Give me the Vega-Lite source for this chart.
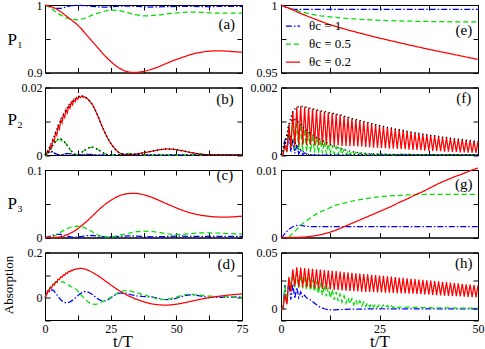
{
"$schema":"https://vega.github.io/schema/vega-lite/v6.json",
"padding":{"left":2,"top":-2,"right":0,"bottom":0},
"background":"white",
"config":{
 "font":"Liberation Serif",
 "view":{"stroke":"black","strokeWidth":1},
 "axis":{"domainColor":"black","domainWidth":1,"tickColor":"black","tickWidth":1,"tickSize":-5,"labelPadding":8,"labelFontSize":12,"labelColor":"black","labelFont":"Liberation Serif","labelFlush":false,"labelOverlap":false,"grid":false,"titleFont":"Liberation Serif","titleFontWeight":"normal","titleColor":"black"},
 "line":{"strokeWidth":1.25,"clip":true},
 "text":{"font":"Liberation Serif","fontSize":15,"color":"black"}
},
"datasets":{
"a":[
{"s":"b","t":0,"v":1},{"s":"b","t":2,"v":0.997},{"s":"b","t":4,"v":0.995},{"s":"b","t":6,"v":0.995},{"s":"b","t":8,"v":0.997},{"s":"b","t":10,"v":0.999},{"s":"b","t":12,"v":0.9995},{"s":"b","t":15,"v":0.999},{"s":"b","t":18,"v":0.998},{"s":"b","t":21,"v":0.997},{"s":"b","t":24,"v":0.997},{"s":"b","t":27,"v":0.998},{"s":"b","t":30,"v":0.9985},{"s":"b","t":35,"v":0.998},{"s":"b","t":40,"v":0.997},{"s":"b","t":45,"v":0.9975},{"s":"b","t":50,"v":0.998},{"s":"b","t":55,"v":0.998},{"s":"b","t":60,"v":0.9975},{"s":"b","t":65,"v":0.9978},{"s":"b","t":70,"v":0.998},{"s":"b","t":75,"v":0.998},
{"s":"g","t":0,"v":1},{"s":"g","t":2,"v":0.996},{"s":"g","t":4,"v":0.99},{"s":"g","t":6,"v":0.985},{"s":"g","t":8,"v":0.981},{"s":"g","t":10,"v":0.979},{"s":"g","t":12.5,"v":0.978},{"s":"g","t":15,"v":0.98},{"s":"g","t":18,"v":0.985},{"s":"g","t":21,"v":0.989},{"s":"g","t":24,"v":0.992},{"s":"g","t":26,"v":0.9925},{"s":"g","t":28,"v":0.992},{"s":"g","t":31,"v":0.989},{"s":"g","t":34,"v":0.986},{"s":"g","t":37,"v":0.984},{"s":"g","t":40,"v":0.984},{"s":"g","t":44,"v":0.9855},{"s":"g","t":48,"v":0.9875},{"s":"g","t":52,"v":0.989},{"s":"g","t":56,"v":0.9895},{"s":"g","t":60,"v":0.989},{"s":"g","t":65,"v":0.988},{"s":"g","t":70,"v":0.988},{"s":"g","t":75,"v":0.988},
{"s":"r","t":0,"v":1},{"s":"r","t":2,"v":0.998},{"s":"r","t":4,"v":0.995},{"s":"r","t":6,"v":0.99},{"s":"r","t":8,"v":0.984},{"s":"r","t":10,"v":0.978},{"s":"r","t":12,"v":0.972},{"s":"r","t":14,"v":0.964},{"s":"r","t":16,"v":0.955},{"s":"r","t":18,"v":0.946},{"s":"r","t":20,"v":0.937},{"s":"r","t":22,"v":0.928},{"s":"r","t":24,"v":0.92},{"s":"r","t":26,"v":0.913},{"s":"r","t":28,"v":0.907},{"s":"r","t":30,"v":0.903},{"s":"r","t":32,"v":0.9005},{"s":"r","t":34,"v":0.9},{"s":"r","t":36,"v":0.9005},{"s":"r","t":38,"v":0.902},{"s":"r","t":40,"v":0.904},{"s":"r","t":43,"v":0.908},{"s":"r","t":46,"v":0.913},{"s":"r","t":49,"v":0.918},{"s":"r","t":52,"v":0.922},{"s":"r","t":55,"v":0.926},{"s":"r","t":58,"v":0.929},{"s":"r","t":61,"v":0.931},{"s":"r","t":64,"v":0.932},{"s":"r","t":67,"v":0.932},{"s":"r","t":70,"v":0.9315},{"s":"r","t":73,"v":0.9305},{"s":"r","t":75,"v":0.93},
{"s":"lab","t":69.2,"v":0.972,"lab":"(a)"}
],
"e":[
{"s":"b","t":0,"v":1},{"s":"b","t":1,"v":0.9985},{"s":"b","t":2,"v":0.9975},{"s":"b","t":3,"v":0.997},{"s":"b","t":4,"v":0.9968},{"s":"b","t":6,"v":0.9968},{"s":"b","t":50,"v":0.9968},
{"s":"g","t":0,"v":1},{"s":"g","t":2.5,"v":0.9972},{"s":"g","t":5,"v":0.995},{"s":"g","t":7.5,"v":0.9933},{"s":"g","t":10,"v":0.992},{"s":"g","t":12.5,"v":0.9912},{"s":"g","t":15,"v":0.9905},{"s":"g","t":17.5,"v":0.9899},{"s":"g","t":20,"v":0.9894},{"s":"g","t":25,"v":0.9887},{"s":"g","t":30,"v":0.9882},{"s":"g","t":35,"v":0.9879},{"s":"g","t":40,"v":0.9877},{"s":"g","t":45,"v":0.9875},{"s":"g","t":50,"v":0.9874},
{"s":"r","t":0,"v":1},{"s":"r","t":2.5,"v":0.997},{"s":"r","t":5,"v":0.9937},{"s":"r","t":7.5,"v":0.9908},{"s":"r","t":10,"v":0.988},{"s":"r","t":12.5,"v":0.9853},{"s":"r","t":15,"v":0.9832},{"s":"r","t":17.5,"v":0.9811},{"s":"r","t":20,"v":0.9792},{"s":"r","t":22.5,"v":0.9773},{"s":"r","t":25,"v":0.9755},{"s":"r","t":27.5,"v":0.9738},{"s":"r","t":30,"v":0.9721},{"s":"r","t":32.5,"v":0.9704},{"s":"r","t":35,"v":0.9688},{"s":"r","t":37.5,"v":0.9672},{"s":"r","t":40,"v":0.9657},{"s":"r","t":42.5,"v":0.9642},{"s":"r","t":45,"v":0.9627},{"s":"r","t":47.5,"v":0.9612},{"s":"r","t":50,"v":0.9597},
{"s":"lab","t":46.4,"v":0.9816,"lab":"(e)"}
],
"b":[
{"s":"b","t":0,"v":0},{"s":"b","t":0.5,"v":0.0003},{"s":"b","t":1,"v":0.0008},{"s":"b","t":1.5,"v":0.0007},{"s":"b","t":2,"v":0.0012},{"s":"b","t":2.5,"v":0.0009},{"s":"b","t":3,"v":0.001},{"s":"b","t":3.5,"v":0.0006},{"s":"b","t":4,"v":0.0004},{"s":"b","t":5,"v":0.0001},{"s":"b","t":6,"v":0},{"s":"b","t":7,"v":0.0002},{"s":"b","t":8,"v":0.0004},{"s":"b","t":9,"v":0.0004},{"s":"b","t":10,"v":0.0003},{"s":"b","t":11,"v":0.0001},{"s":"b","t":12,"v":0},{"s":"b","t":14,"v":0.0001},{"s":"b","t":16,"v":0.0002},{"s":"b","t":18,"v":0.0001},{"s":"b","t":20,"v":0},{"s":"b","t":30,"v":0},{"s":"b","t":45,"v":0},{"s":"b","t":60,"v":0},{"s":"b","t":75,"v":0},
{"s":"g","t":0,"v":0},{"s":"g","t":0.5,"v":0},{"s":"g","t":1,"v":0.0005},{"s":"g","t":1.5,"v":0.0008},{"s":"g","t":2,"v":0.0016},{"s":"g","t":2.5,"v":0.0021},{"s":"g","t":3,"v":0.0029},{"s":"g","t":3.5,"v":0.0033},{"s":"g","t":4,"v":0.004},{"s":"g","t":4.5,"v":0.0042},{"s":"g","t":5,"v":0.0047},{"s":"g","t":5.5,"v":0.0042},{"s":"g","t":6,"v":0.0048},{"s":"g","t":6.5,"v":0.0041},{"s":"g","t":7,"v":0.0043},{"s":"g","t":7.5,"v":0.0036},{"s":"g","t":8,"v":0.0034},{"s":"g","t":8.5,"v":0.0026},{"s":"g","t":9,"v":0.0023},{"s":"g","t":9.5,"v":0.0016},{"s":"g","t":10,"v":0.0012},{"s":"g","t":10.5,"v":0.0007},{"s":"g","t":11,"v":0.0004},{"s":"g","t":11.5,"v":0.0002},{"s":"g","t":12,"v":0.0001},{"s":"g","t":13,"v":0.0003},{"s":"g","t":14,"v":0.0008},{"s":"g","t":15,"v":0.0014},{"s":"g","t":16,"v":0.0019},{"s":"g","t":17,"v":0.0022},{"s":"g","t":18,"v":0.0023},{"s":"g","t":19,"v":0.0021},{"s":"g","t":20,"v":0.0017},{"s":"g","t":21,"v":0.0012},{"s":"g","t":22,"v":0.0007},{"s":"g","t":23,"v":0.0003},{"s":"g","t":24,"v":0.0001},{"s":"g","t":26,"v":0},{"s":"g","t":28,"v":0.0001},{"s":"g","t":30,"v":0.0003},{"s":"g","t":32,"v":0.0004},{"s":"g","t":34,"v":0.0003},{"s":"g","t":36,"v":0.0001},{"s":"g","t":38,"v":0},{"s":"g","t":50,"v":0},{"s":"g","t":62,"v":0},{"s":"g","t":75,"v":0},
{"s":"r","t":0,"v":0},{"s":"r","t":0.5,"v":0.0002},{"s":"r","t":1,"v":0.0012},{"s":"r","t":1.5,"v":0.0009},{"s":"r","t":2,"v":0.0028},{"s":"r","t":2.5,"v":0.0022},{"s":"r","t":3,"v":0.0046},{"s":"r","t":3.5,"v":0.0039},{"s":"r","t":4,"v":0.0066},{"s":"r","t":4.5,"v":0.0058},{"s":"r","t":5,"v":0.0086},{"s":"r","t":5.5,"v":0.0077},{"s":"r","t":6,"v":0.0104},{"s":"r","t":6.5,"v":0.0095},{"s":"r","t":7,"v":0.012},{"s":"r","t":7.5,"v":0.0111},{"s":"r","t":8,"v":0.0134},{"s":"r","t":8.5,"v":0.0125},{"s":"r","t":9,"v":0.0146},{"s":"r","t":9.5,"v":0.0138},{"s":"r","t":10,"v":0.0156},{"s":"r","t":10.5,"v":0.0149},{"s":"r","t":11,"v":0.0164},{"s":"r","t":11.5,"v":0.0158},{"s":"r","t":12,"v":0.017},{"s":"r","t":12.5,"v":0.0165},{"s":"r","t":13,"v":0.0174},{"s":"r","t":13.5,"v":0.017},{"s":"r","t":14,"v":0.0175},{"s":"r","t":14.5,"v":0.0171},{"s":"r","t":15,"v":0.0173},{"s":"r","t":15.5,"v":0.0169},{"s":"r","t":16,"v":0.0168},{"s":"r","t":17,"v":0.016},{"s":"r","t":18,"v":0.015},{"s":"r","t":19,"v":0.0135},{"s":"r","t":20,"v":0.0118},{"s":"r","t":21,"v":0.0099},{"s":"r","t":22,"v":0.008},{"s":"r","t":23,"v":0.0063},{"s":"r","t":24,"v":0.0048},{"s":"r","t":25,"v":0.0035},{"s":"r","t":26,"v":0.0024},{"s":"r","t":27,"v":0.0015},{"s":"r","t":28,"v":0.0008},{"s":"r","t":29,"v":0.0004},{"s":"r","t":30,"v":0.0002},{"s":"r","t":31,"v":0.0001},{"s":"r","t":33,"v":0.0001},{"s":"r","t":35,"v":0.0003},{"s":"r","t":37,"v":0.0006},{"s":"r","t":40,"v":0.001},{"s":"r","t":43,"v":0.0015},{"s":"r","t":46,"v":0.0018},{"s":"r","t":49,"v":0.0017},{"s":"r","t":52,"v":0.0013},{"s":"r","t":55,"v":0.0008},{"s":"r","t":58,"v":0.0004},{"s":"r","t":61,"v":0.0001},{"s":"r","t":64,"v":0},{"s":"r","t":70,"v":0},{"s":"r","t":75,"v":0},
{"s":"lab","t":68.5,"v":0.0167,"lab":"(b)"}
],
"f":[
{"s":"b","t":0,"v":0},{"s":"b","t":0.5,"v":0},{"s":"b","t":1,"v":0.00045},{"s":"b","t":1.5,"v":0.0001},{"s":"b","t":2,"v":0.0006},{"s":"b","t":2.5,"v":0.0001},{"s":"b","t":3,"v":0.00045},{"s":"b","t":3.5,"v":0.00005},{"s":"b","t":4,"v":0.0003},{"s":"b","t":4.5,"v":0.00003},{"s":"b","t":5,"v":0.00015},{"s":"b","t":5.5,"v":0},{"s":"b","t":6,"v":0.00006},{"s":"b","t":7,"v":0.00001},{"s":"b","t":8,"v":0},{"s":"b","t":20,"v":0},{"s":"b","t":35,"v":0},{"s":"b","t":50,"v":0},
{"s":"g","t":0,"v":0},{"s":"g","t":0.5,"v":0},{"s":"g","t":1,"v":0.0003},{"s":"g","t":1.5,"v":0.00008},{"s":"g","t":2,"v":0.0009},{"s":"g","t":2.5,"v":0.0002},{"s":"g","t":3,"v":0.00107},{"s":"g","t":3.5,"v":0.00018},{"s":"g","t":4,"v":0.00102},{"s":"g","t":4.5,"v":0.00015},{"s":"g","t":5,"v":0.0009},{"s":"g","t":5.5,"v":0.00012},{"s":"g","t":6,"v":0.00077},{"s":"g","t":6.5,"v":0.0001},{"s":"g","t":7,"v":0.00068},{"s":"g","t":7.5,"v":0.00008},{"s":"g","t":8,"v":0.0006},{"s":"g","t":8.5,"v":0.00007},{"s":"g","t":9,"v":0.00052},{"s":"g","t":9.5,"v":0.00006},{"s":"g","t":10,"v":0.00046},{"s":"g","t":10.5,"v":0.00005},{"s":"g","t":11,"v":0.0004},{"s":"g","t":11.5,"v":0.00004},{"s":"g","t":12,"v":0.00034},{"s":"g","t":12.5,"v":0.00003},{"s":"g","t":13,"v":0.00029},{"s":"g","t":13.5,"v":0.00003},{"s":"g","t":14,"v":0.00024},{"s":"g","t":14.5,"v":0.00002},{"s":"g","t":15,"v":0.0002},{"s":"g","t":15.5,"v":0.00002},{"s":"g","t":16,"v":0.00016},{"s":"g","t":16.5,"v":0.00001},{"s":"g","t":17,"v":0.00013},{"s":"g","t":17.5,"v":0.00001},{"s":"g","t":18,"v":0.0001},{"s":"g","t":18.5,"v":0.00001},{"s":"g","t":19,"v":0.00008},{"s":"g","t":19.5,"v":0},{"s":"g","t":20,"v":0.00006},{"s":"g","t":20.5,"v":0},{"s":"g","t":21,"v":0.00005},{"s":"g","t":21.5,"v":0},{"s":"g","t":22,"v":0.00004},{"s":"g","t":22.5,"v":0},{"s":"g","t":23,"v":0.00004},{"s":"g","t":23.5,"v":0},{"s":"g","t":24,"v":0.00003},{"s":"g","t":24.5,"v":0},{"s":"g","t":25,"v":0.00003},{"s":"g","t":25.5,"v":0},{"s":"g","t":26,"v":0.00003},{"s":"g","t":26.5,"v":0},{"s":"g","t":27,"v":0.00002},{"s":"g","t":27.5,"v":0},{"s":"g","t":28,"v":0.00002},{"s":"g","t":28.5,"v":0},{"s":"g","t":29,"v":0.00002},{"s":"g","t":29.5,"v":0},{"s":"g","t":30,"v":0.00002},{"s":"g","t":35,"v":0.00001},{"s":"g","t":40,"v":0.00001},{"s":"g","t":45,"v":0.00001},{"s":"g","t":50,"v":0.00001},
{"s":"r","t":0,"v":0},{"s":"r","t":0.5,"v":0},{"s":"r","t":1,"v":0.0003},{"s":"r","t":1.5,"v":0.0001},{"s":"r","t":2,"v":0.0009},{"s":"r","t":2.5,"v":0.0002},{"s":"r","t":3,"v":0.0013},{"s":"r","t":3.5,"v":0.00026},{"s":"r","t":4,"v":0.00142},{"s":"r","t":4.5,"v":0.0003},{"s":"r","t":5,"v":0.00144},{"s":"r","t":5.5,"v":0.0003},{"s":"r","t":6,"v":0.00143},{"s":"r","t":6.5,"v":0.0003},{"s":"r","t":7,"v":0.0014},{"s":"r","t":7.5,"v":0.0003},{"s":"r","t":8,"v":0.00137},{"s":"r","t":8.5,"v":0.0003},{"s":"r","t":9,"v":0.00134},{"s":"r","t":9.5,"v":0.00029},{"s":"r","t":10,"v":0.00131},{"s":"r","t":10.5,"v":0.00029},{"s":"r","t":11,"v":0.00129},{"s":"r","t":11.5,"v":0.00029},{"s":"r","t":12,"v":0.00126},{"s":"r","t":12.5,"v":0.00028},{"s":"r","t":13,"v":0.00124},{"s":"r","t":13.5,"v":0.00028},{"s":"r","t":14,"v":0.00121},{"s":"r","t":14.5,"v":0.00028},{"s":"r","t":15,"v":0.00119},{"s":"r","t":15.5,"v":0.00027},{"s":"r","t":16,"v":0.00115},{"s":"r","t":16.5,"v":0.00027},{"s":"r","t":17,"v":0.00112},{"s":"r","t":17.5,"v":0.00026},{"s":"r","t":18,"v":0.00108},{"s":"r","t":18.5,"v":0.00026},{"s":"r","t":19,"v":0.00105},{"s":"r","t":19.5,"v":0.00025},{"s":"r","t":20,"v":0.00102},{"s":"r","t":20.5,"v":0.00025},{"s":"r","t":21,"v":0.00099},{"s":"r","t":21.5,"v":0.00024},{"s":"r","t":22,"v":0.00096},{"s":"r","t":22.5,"v":0.00023},{"s":"r","t":23,"v":0.00093},{"s":"r","t":23.5,"v":0.00022},{"s":"r","t":24,"v":0.0009},{"s":"r","t":24.5,"v":0.00021},{"s":"r","t":25,"v":0.00087},{"s":"r","t":25.5,"v":0.0002},{"s":"r","t":26,"v":0.00085},{"s":"r","t":26.5,"v":0.0002},{"s":"r","t":27,"v":0.00082},{"s":"r","t":27.5,"v":0.00019},{"s":"r","t":28,"v":0.0008},{"s":"r","t":28.5,"v":0.00019},{"s":"r","t":29,"v":0.00077},{"s":"r","t":29.5,"v":0.00018},{"s":"r","t":30,"v":0.00075},{"s":"r","t":30.5,"v":0.00018},{"s":"r","t":31,"v":0.00073},{"s":"r","t":31.5,"v":0.00017},{"s":"r","t":32,"v":0.0007},{"s":"r","t":32.5,"v":0.00016},{"s":"r","t":33,"v":0.00068},{"s":"r","t":33.5,"v":0.00015},{"s":"r","t":34,"v":0.00066},{"s":"r","t":34.5,"v":0.00015},{"s":"r","t":35,"v":0.00064},{"s":"r","t":35.5,"v":0.00014},{"s":"r","t":36,"v":0.00062},{"s":"r","t":36.5,"v":0.00013},{"s":"r","t":37,"v":0.0006},{"s":"r","t":37.5,"v":0.00013},{"s":"r","t":38,"v":0.00058},{"s":"r","t":38.5,"v":0.00012},{"s":"r","t":39,"v":0.00057},{"s":"r","t":39.5,"v":0.00012},{"s":"r","t":40,"v":0.00055},{"s":"r","t":40.5,"v":0.00011},{"s":"r","t":41,"v":0.00053},{"s":"r","t":41.5,"v":0.0001},{"s":"r","t":42,"v":0.00052},{"s":"r","t":42.5,"v":0.0001},{"s":"r","t":43,"v":0.0005},{"s":"r","t":43.5,"v":0.00009},{"s":"r","t":44,"v":0.00048},{"s":"r","t":44.5,"v":0.00009},{"s":"r","t":45,"v":0.00047},{"s":"r","t":45.5,"v":0.00008},{"s":"r","t":46,"v":0.00046},{"s":"r","t":46.5,"v":0.00008},{"s":"r","t":47,"v":0.00044},{"s":"r","t":47.5,"v":0.00007},{"s":"r","t":48,"v":0.00043},{"s":"r","t":48.5,"v":0.00007},{"s":"r","t":49,"v":0.00041},{"s":"r","t":49.5,"v":0.00006},{"s":"r","t":50,"v":0.0004},
{"s":"lab","t":46.4,"v":0.0017,"lab":"(f)"}
],
"c":[
{"s":"b","t":0,"v":0},{"s":"b","t":2,"v":0.002},{"s":"b","t":4,"v":0.0045},{"s":"b","t":6,"v":0.0045},{"s":"b","t":8,"v":0.0025},{"s":"b","t":10,"v":0.0008},{"s":"b","t":12,"v":0.0005},{"s":"b","t":14,"v":0.0015},{"s":"b","t":16,"v":0.0028},{"s":"b","t":18,"v":0.003},{"s":"b","t":20,"v":0.002},{"s":"b","t":23,"v":0.0008},{"s":"b","t":26,"v":0.0008},{"s":"b","t":29,"v":0.0018},{"s":"b","t":32,"v":0.0025},{"s":"b","t":35,"v":0.002},{"s":"b","t":38,"v":0.0012},{"s":"b","t":42,"v":0.001},{"s":"b","t":46,"v":0.0015},{"s":"b","t":50,"v":0.002},{"s":"b","t":55,"v":0.0018},{"s":"b","t":60,"v":0.0015},{"s":"b","t":65,"v":0.0016},{"s":"b","t":70,"v":0.0018},{"s":"b","t":75,"v":0.0018},
{"s":"g","t":0,"v":0},{"s":"g","t":2,"v":0.0005},{"s":"g","t":4,"v":0.003},{"s":"g","t":6,"v":0.008},{"s":"g","t":8,"v":0.0125},{"s":"g","t":10,"v":0.0155},{"s":"g","t":12,"v":0.0168},{"s":"g","t":14,"v":0.016},{"s":"g","t":16,"v":0.013},{"s":"g","t":18,"v":0.0085},{"s":"g","t":20,"v":0.004},{"s":"g","t":22,"v":0.0012},{"s":"g","t":24,"v":0.0005},{"s":"g","t":26,"v":0.0012},{"s":"g","t":28,"v":0.003},{"s":"g","t":31,"v":0.0055},{"s":"g","t":34,"v":0.008},{"s":"g","t":37,"v":0.0094},{"s":"g","t":40,"v":0.0092},{"s":"g","t":43,"v":0.0078},{"s":"g","t":46,"v":0.0058},{"s":"g","t":49,"v":0.0045},{"s":"g","t":52,"v":0.0045},{"s":"g","t":55,"v":0.0055},{"s":"g","t":58,"v":0.0066},{"s":"g","t":61,"v":0.007},{"s":"g","t":64,"v":0.0068},{"s":"g","t":67,"v":0.0063},{"s":"g","t":70,"v":0.0058},{"s":"g","t":73,"v":0.0055},{"s":"g","t":75,"v":0.0055},
{"s":"r","t":0,"v":0},{"s":"r","t":3,"v":0},{"s":"r","t":5,"v":0.0005},{"s":"r","t":7,"v":0.002},{"s":"r","t":9,"v":0.005},{"s":"r","t":11,"v":0.009},{"s":"r","t":13,"v":0.0145},{"s":"r","t":15,"v":0.021},{"s":"r","t":17,"v":0.028},{"s":"r","t":19,"v":0.0355},{"s":"r","t":21,"v":0.043},{"s":"r","t":23,"v":0.0495},{"s":"r","t":25,"v":0.055},{"s":"r","t":27,"v":0.0595},{"s":"r","t":29,"v":0.063},{"s":"r","t":31,"v":0.0648},{"s":"r","t":33,"v":0.0655},{"s":"r","t":35,"v":0.0652},{"s":"r","t":37,"v":0.064},{"s":"r","t":39,"v":0.0618},{"s":"r","t":41,"v":0.059},{"s":"r","t":43,"v":0.0558},{"s":"r","t":45,"v":0.0522},{"s":"r","t":47,"v":0.0488},{"s":"r","t":49,"v":0.0455},{"s":"r","t":51,"v":0.0422},{"s":"r","t":53,"v":0.0393},{"s":"r","t":55,"v":0.0368},{"s":"r","t":57,"v":0.0348},{"s":"r","t":59,"v":0.0332},{"s":"r","t":61,"v":0.032},{"s":"r","t":63,"v":0.0311},{"s":"r","t":65,"v":0.0305},{"s":"r","t":67,"v":0.0302},{"s":"r","t":69,"v":0.0302},{"s":"r","t":71,"v":0.0305},{"s":"r","t":73,"v":0.031},{"s":"r","t":75,"v":0.0315},
{"s":"lab","t":68.5,"v":0.0925,"lab":"(c)"}
],
"g":[
{"s":"b","t":0,"v":0},{"s":"b","t":0.5,"v":0.0002},{"s":"b","t":1,"v":0.0006},{"s":"b","t":1.5,"v":0.0009},{"s":"b","t":2,"v":0.0012},{"s":"b","t":2.5,"v":0.0014},{"s":"b","t":3,"v":0.0016},{"s":"b","t":3.5,"v":0.0017},{"s":"b","t":4,"v":0.0018},{"s":"b","t":5,"v":0.0018},{"s":"b","t":6,"v":0.0017},{"s":"b","t":8,"v":0.0016},{"s":"b","t":12,"v":0.0016},{"s":"b","t":50,"v":0.0016},
{"s":"g","t":0,"v":0},{"s":"g","t":1,"v":0},{"s":"g","t":2,"v":0.0001},{"s":"g","t":3,"v":0.0006},{"s":"g","t":4,"v":0.0012},{"s":"g","t":5,"v":0.0018},{"s":"g","t":6,"v":0.0023},{"s":"g","t":7,"v":0.0027},{"s":"g","t":8,"v":0.0031},{"s":"g","t":9,"v":0.0035},{"s":"g","t":10,"v":0.0038},{"s":"g","t":12,"v":0.0043},{"s":"g","t":14,"v":0.0048},{"s":"g","t":16,"v":0.0051},{"s":"g","t":18,"v":0.0054},{"s":"g","t":20,"v":0.0056},{"s":"g","t":23,"v":0.0059},{"s":"g","t":26,"v":0.0061},{"s":"g","t":29,"v":0.0062},{"s":"g","t":32,"v":0.0063},{"s":"g","t":35,"v":0.0064},{"s":"g","t":40,"v":0.0064},{"s":"g","t":45,"v":0.0064},{"s":"g","t":50,"v":0.0064},
{"s":"r","t":0,"v":0},{"s":"r","t":2,"v":0},{"s":"r","t":4,"v":0.00002},{"s":"r","t":6,"v":0.00006},{"s":"r","t":8,"v":0.0002},{"s":"r","t":10,"v":0.0004},{"s":"r","t":12,"v":0.0007},{"s":"r","t":14,"v":0.0011},{"s":"r","t":16,"v":0.0016},{"s":"r","t":18,"v":0.0021},{"s":"r","t":20,"v":0.0026},{"s":"r","t":22,"v":0.0031},{"s":"r","t":24,"v":0.0036},{"s":"r","t":26,"v":0.0041},{"s":"r","t":28,"v":0.0046},{"s":"r","t":30,"v":0.0052},{"s":"r","t":32,"v":0.0057},{"s":"r","t":34,"v":0.0063},{"s":"r","t":36,"v":0.0068},{"s":"r","t":38,"v":0.0074},{"s":"r","t":40,"v":0.008},{"s":"r","t":42,"v":0.0085},{"s":"r","t":44,"v":0.009},{"s":"r","t":46,"v":0.0094},{"s":"r","t":48,"v":0.0099},{"s":"r","t":50,"v":0.0103},
{"s":"lab","t":46.4,"v":0.0079,"lab":"(g)"}
],
"d":[
{"s":"b","t":0,"v":0},{"s":"b","t":0.5,"v":0.01},{"s":"b","t":1,"v":0.025},{"s":"b","t":1.5,"v":0.022},{"s":"b","t":2,"v":0.035},{"s":"b","t":2.5,"v":0.033},{"s":"b","t":3,"v":0.034},{"s":"b","t":3.5,"v":0.028},{"s":"b","t":4,"v":0.02},{"s":"b","t":5,"v":0.005},{"s":"b","t":6,"v":-0.01},{"s":"b","t":7,"v":-0.02},{"s":"b","t":8,"v":-0.024},{"s":"b","t":9,"v":-0.022},{"s":"b","t":10,"v":-0.016},{"s":"b","t":11,"v":-0.007},{"s":"b","t":12,"v":0.003},{"s":"b","t":13,"v":0.013},{"s":"b","t":14,"v":0.021},{"s":"b","t":15,"v":0.026},{"s":"b","t":16,"v":0.026},{"s":"b","t":17,"v":0.021},{"s":"b","t":18,"v":0.013},{"s":"b","t":19,"v":0.004},{"s":"b","t":20,"v":-0.005},{"s":"b","t":21,"v":-0.012},{"s":"b","t":22,"v":-0.016},{"s":"b","t":23,"v":-0.015},{"s":"b","t":24,"v":-0.01},{"s":"b","t":25,"v":-0.002},{"s":"b","t":26,"v":0.006},{"s":"b","t":27,"v":0.013},{"s":"b","t":28,"v":0.018},{"s":"b","t":29,"v":0.02},{"s":"b","t":30,"v":0.02},{"s":"b","t":31,"v":0.018},{"s":"b","t":33,"v":0.012},{"s":"b","t":35,"v":0.007},{"s":"b","t":37,"v":0.005},{"s":"b","t":39,"v":0.004},{"s":"b","t":41,"v":0.002},{"s":"b","t":43,"v":-0.003},{"s":"b","t":45,"v":-0.008},{"s":"b","t":47,"v":-0.009},{"s":"b","t":49,"v":-0.006},{"s":"b","t":51,"v":0},{"s":"b","t":53,"v":0.008},{"s":"b","t":55,"v":0.012},{"s":"b","t":57,"v":0.011},{"s":"b","t":59,"v":0.007},{"s":"b","t":61,"v":0.003},{"s":"b","t":63,"v":0.001},{"s":"b","t":66,"v":0.001},{"s":"b","t":70,"v":0.002},{"s":"b","t":75,"v":0.001},
{"s":"g","t":0,"v":0},{"s":"g","t":1,"v":0.028},{"s":"g","t":2,"v":0.045},{"s":"g","t":3,"v":0.058},{"s":"g","t":4,"v":0.066},{"s":"g","t":5,"v":0.07},{"s":"g","t":6,"v":0.071},{"s":"g","t":7,"v":0.068},{"s":"g","t":8,"v":0.062},{"s":"g","t":9,"v":0.055},{"s":"g","t":10,"v":0.048},{"s":"g","t":11,"v":0.043},{"s":"g","t":12,"v":0.035},{"s":"g","t":13,"v":0.022},{"s":"g","t":14,"v":0.008},{"s":"g","t":15,"v":-0.005},{"s":"g","t":16,"v":-0.016},{"s":"g","t":17,"v":-0.024},{"s":"g","t":18,"v":-0.029},{"s":"g","t":19,"v":-0.03},{"s":"g","t":20,"v":-0.028},{"s":"g","t":21,"v":-0.024},{"s":"g","t":22,"v":-0.018},{"s":"g","t":23,"v":-0.012},{"s":"g","t":24,"v":-0.006},{"s":"g","t":25,"v":0},{"s":"g","t":26,"v":0.008},{"s":"g","t":27,"v":0.015},{"s":"g","t":28,"v":0.022},{"s":"g","t":29,"v":0.027},{"s":"g","t":30,"v":0.03},{"s":"g","t":31,"v":0.031},{"s":"g","t":32,"v":0.03},{"s":"g","t":33,"v":0.027},{"s":"g","t":35,"v":0.021},{"s":"g","t":37,"v":0.014},{"s":"g","t":39,"v":0.007},{"s":"g","t":41,"v":0.001},{"s":"g","t":43,"v":-0.008},{"s":"g","t":44,"v":-0.009},{"s":"g","t":46,"v":-0.008},{"s":"g","t":48,"v":-0.004},{"s":"g","t":50,"v":0.002},{"s":"g","t":52,"v":0.009},{"s":"g","t":54,"v":0.014},{"s":"g","t":56,"v":0.014},{"s":"g","t":58,"v":0.012},{"s":"g","t":60,"v":0.009},{"s":"g","t":62,"v":0.007},{"s":"g","t":64,"v":0.006},{"s":"g","t":67,"v":0.004},{"s":"g","t":70,"v":0.003},{"s":"g","t":72,"v":0.002},{"s":"g","t":75,"v":0.002},
{"s":"r","t":0,"v":0},{"s":"r","t":0.5,"v":0.01},{"s":"r","t":1,"v":0.03},{"s":"r","t":1.5,"v":0.027},{"s":"r","t":2,"v":0.045},{"s":"r","t":2.5,"v":0.042},{"s":"r","t":3,"v":0.058},{"s":"r","t":3.5,"v":0.055},{"s":"r","t":4,"v":0.07},{"s":"r","t":4.5,"v":0.067},{"s":"r","t":5,"v":0.082},{"s":"r","t":5.5,"v":0.079},{"s":"r","t":6,"v":0.092},{"s":"r","t":6.5,"v":0.09},{"s":"r","t":7,"v":0.101},{"s":"r","t":7.5,"v":0.099},{"s":"r","t":8,"v":0.109},{"s":"r","t":8.5,"v":0.107},{"s":"r","t":9,"v":0.116},{"s":"r","t":9.5,"v":0.114},{"s":"r","t":10,"v":0.121},{"s":"r","t":10.5,"v":0.12},{"s":"r","t":11,"v":0.125},{"s":"r","t":11.5,"v":0.124},{"s":"r","t":12,"v":0.128},{"s":"r","t":12.5,"v":0.127},{"s":"r","t":13,"v":0.129},{"s":"r","t":14,"v":0.129},{"s":"r","t":15,"v":0.127},{"s":"r","t":16,"v":0.123},{"s":"r","t":17,"v":0.118},{"s":"r","t":18,"v":0.112},{"s":"r","t":19,"v":0.105},{"s":"r","t":20,"v":0.098},{"s":"r","t":21,"v":0.09},{"s":"r","t":22,"v":0.082},{"s":"r","t":23,"v":0.073},{"s":"r","t":24,"v":0.065},{"s":"r","t":25,"v":0.056},{"s":"r","t":26,"v":0.048},{"s":"r","t":27,"v":0.04},{"s":"r","t":28,"v":0.032},{"s":"r","t":29,"v":0.025},{"s":"r","t":30,"v":0.018},{"s":"r","t":31,"v":0.012},{"s":"r","t":32,"v":0.006},{"s":"r","t":34,"v":-0.004},{"s":"r","t":36,"v":-0.013},{"s":"r","t":38,"v":-0.021},{"s":"r","t":40,"v":-0.027},{"s":"r","t":42,"v":-0.031},{"s":"r","t":44,"v":-0.033},{"s":"r","t":46,"v":-0.034},{"s":"r","t":48,"v":-0.033},{"s":"r","t":50,"v":-0.03},{"s":"r","t":52,"v":-0.026},{"s":"r","t":54,"v":-0.021},{"s":"r","t":56,"v":-0.016},{"s":"r","t":58,"v":-0.011},{"s":"r","t":60,"v":-0.006},{"s":"r","t":62,"v":-0.002},{"s":"r","t":64,"v":0.002},{"s":"r","t":66,"v":0.005},{"s":"r","t":68,"v":0.008},{"s":"r","t":70,"v":0.011},{"s":"r","t":72,"v":0.013},{"s":"r","t":75,"v":0.016},
{"s":"lab","t":69,"v":0.147,"lab":"(d)"}
],
"h":[
{"s":"b","t":0,"v":0},{"s":"b","t":0.5,"v":0},{"s":"b","t":1,"v":0.021},{"s":"b","t":1.5,"v":0.005},{"s":"b","t":2,"v":0.024},{"s":"b","t":2.5,"v":0.008},{"s":"b","t":3,"v":0.022},{"s":"b","t":3.5,"v":0.009},{"s":"b","t":4,"v":0.019},{"s":"b","t":4.5,"v":0.01},{"s":"b","t":5,"v":0.015},{"s":"b","t":5.5,"v":0.01},{"s":"b","t":6,"v":0.012},{"s":"b","t":6.5,"v":0.0095},{"s":"b","t":7,"v":0.009},{"s":"b","t":8,"v":0.0065},{"s":"b","t":9,"v":0.0035},{"s":"b","t":10,"v":0.0012},{"s":"b","t":11,"v":0},{"s":"b","t":12,"v":-0.0008},{"s":"b","t":13,"v":-0.001},{"s":"b","t":15,"v":-0.0008},{"s":"b","t":18,"v":-0.0004},{"s":"b","t":22,"v":-0.0002},{"s":"b","t":26,"v":0},{"s":"b","t":35,"v":0},{"s":"b","t":50,"v":0},
{"s":"g","t":0,"v":0},{"s":"g","t":0.5,"v":0},{"s":"g","t":1,"v":0.02},{"s":"g","t":1.5,"v":0.008},{"s":"g","t":2,"v":0.028},{"s":"g","t":2.5,"v":0.018},{"s":"g","t":3,"v":0.031},{"s":"g","t":3.5,"v":0.019},{"s":"g","t":4,"v":0.031},{"s":"g","t":4.5,"v":0.0185},{"s":"g","t":5,"v":0.03},{"s":"g","t":5.5,"v":0.018},{"s":"g","t":6,"v":0.029},{"s":"g","t":6.5,"v":0.017},{"s":"g","t":7,"v":0.0275},{"s":"g","t":7.5,"v":0.016},{"s":"g","t":8,"v":0.026},{"s":"g","t":8.5,"v":0.015},{"s":"g","t":9,"v":0.0245},{"s":"g","t":9.5,"v":0.0135},{"s":"g","t":10,"v":0.023},{"s":"g","t":10.5,"v":0.012},{"s":"g","t":11,"v":0.021},{"s":"g","t":11.5,"v":0.011},{"s":"g","t":12,"v":0.019},{"s":"g","t":12.5,"v":0.0095},{"s":"g","t":13,"v":0.017},{"s":"g","t":13.5,"v":0.008},{"s":"g","t":14,"v":0.015},{"s":"g","t":14.5,"v":0.0068},{"s":"g","t":15,"v":0.013},{"s":"g","t":15.5,"v":0.0058},{"s":"g","t":16,"v":0.0115},{"s":"g","t":16.5,"v":0.005},{"s":"g","t":17,"v":0.01},{"s":"g","t":17.5,"v":0.0042},{"s":"g","t":18,"v":0.009},{"s":"g","t":18.5,"v":0.0035},{"s":"g","t":19,"v":0.008},{"s":"g","t":19.5,"v":0.003},{"s":"g","t":20,"v":0.007},{"s":"g","t":20.5,"v":0.0025},{"s":"g","t":21,"v":0.006},{"s":"g","t":21.5,"v":0.002},{"s":"g","t":22,"v":0.0053},{"s":"g","t":22.5,"v":0.0017},{"s":"g","t":23,"v":0.0047},{"s":"g","t":23.5,"v":0.0015},{"s":"g","t":24,"v":0.0042},{"s":"g","t":24.5,"v":0.0013},{"s":"g","t":25,"v":0.0038},{"s":"g","t":25.5,"v":0.0011},{"s":"g","t":26,"v":0.0034},{"s":"g","t":26.5,"v":0.001},{"s":"g","t":27,"v":0.003},{"s":"g","t":27.5,"v":0.0009},{"s":"g","t":28,"v":0.0027},{"s":"g","t":28.5,"v":0.0008},{"s":"g","t":29,"v":0.0024},{"s":"g","t":29.5,"v":0.0007},{"s":"g","t":30,"v":0.0015},{"s":"g","t":32,"v":0.0014},{"s":"g","t":34,"v":0.0012},{"s":"g","t":36,"v":0.001},{"s":"g","t":38,"v":0.0009},{"s":"g","t":40,"v":0.0008},{"s":"g","t":43,"v":0.0007},{"s":"g","t":46,"v":0.0006},{"s":"g","t":50,"v":0.0005},
{"s":"r","t":0,"v":0},{"s":"r","t":0.5,"v":0},{"s":"r","t":1,"v":0.012},{"s":"r","t":1.5,"v":0.004},{"s":"r","t":2,"v":0.028},{"s":"r","t":2.5,"v":0.015},{"s":"r","t":3,"v":0.035},{"s":"r","t":3.5,"v":0.02},{"s":"r","t":4,"v":0.0368},{"s":"r","t":4.5,"v":0.0195},{"s":"r","t":5,"v":0.0365},{"s":"r","t":5.5,"v":0.0192},{"s":"r","t":6,"v":0.0362},{"s":"r","t":6.5,"v":0.0189},{"s":"r","t":7,"v":0.0358},{"s":"r","t":7.5,"v":0.0186},{"s":"r","t":8,"v":0.0355},{"s":"r","t":8.5,"v":0.0183},{"s":"r","t":9,"v":0.0351},{"s":"r","t":9.5,"v":0.018},{"s":"r","t":10,"v":0.0348},{"s":"r","t":10.5,"v":0.0177},{"s":"r","t":11,"v":0.0344},{"s":"r","t":11.5,"v":0.0174},{"s":"r","t":12,"v":0.0341},{"s":"r","t":12.5,"v":0.0171},{"s":"r","t":13,"v":0.0337},{"s":"r","t":13.5,"v":0.0168},{"s":"r","t":14,"v":0.0334},{"s":"r","t":14.5,"v":0.0165},{"s":"r","t":15,"v":0.033},{"s":"r","t":15.5,"v":0.0162},{"s":"r","t":16,"v":0.0327},{"s":"r","t":16.5,"v":0.016},{"s":"r","t":17,"v":0.0323},{"s":"r","t":17.5,"v":0.0158},{"s":"r","t":18,"v":0.032},{"s":"r","t":18.5,"v":0.0156},{"s":"r","t":19,"v":0.0316},{"s":"r","t":19.5,"v":0.0154},{"s":"r","t":20,"v":0.0313},{"s":"r","t":20.5,"v":0.0152},{"s":"r","t":21,"v":0.0309},{"s":"r","t":21.5,"v":0.015},{"s":"r","t":22,"v":0.0306},{"s":"r","t":22.5,"v":0.0149},{"s":"r","t":23,"v":0.0302},{"s":"r","t":23.5,"v":0.0148},{"s":"r","t":24,"v":0.0299},{"s":"r","t":24.5,"v":0.0146},{"s":"r","t":25,"v":0.0295},{"s":"r","t":25.5,"v":0.0145},{"s":"r","t":26,"v":0.0292},{"s":"r","t":26.5,"v":0.0143},{"s":"r","t":27,"v":0.0288},{"s":"r","t":27.5,"v":0.0142},{"s":"r","t":28,"v":0.0285},{"s":"r","t":28.5,"v":0.014},{"s":"r","t":29,"v":0.0281},{"s":"r","t":29.5,"v":0.0139},{"s":"r","t":30,"v":0.0278},{"s":"r","t":30.5,"v":0.0137},{"s":"r","t":31,"v":0.0274},{"s":"r","t":31.5,"v":0.0136},{"s":"r","t":32,"v":0.0271},{"s":"r","t":32.5,"v":0.0134},{"s":"r","t":33,"v":0.0267},{"s":"r","t":33.5,"v":0.0133},{"s":"r","t":34,"v":0.0264},{"s":"r","t":34.5,"v":0.0131},{"s":"r","t":35,"v":0.026},{"s":"r","t":35.5,"v":0.0129},{"s":"r","t":36,"v":0.0257},{"s":"r","t":36.5,"v":0.0127},{"s":"r","t":37,"v":0.0253},{"s":"r","t":37.5,"v":0.0125},{"s":"r","t":38,"v":0.025},{"s":"r","t":38.5,"v":0.0123},{"s":"r","t":39,"v":0.0246},{"s":"r","t":39.5,"v":0.0121},{"s":"r","t":40,"v":0.0243},{"s":"r","t":40.5,"v":0.0119},{"s":"r","t":41,"v":0.0239},{"s":"r","t":41.5,"v":0.0117},{"s":"r","t":42,"v":0.0236},{"s":"r","t":42.5,"v":0.0115},{"s":"r","t":43,"v":0.0232},{"s":"r","t":43.5,"v":0.0113},{"s":"r","t":44,"v":0.0229},{"s":"r","t":44.5,"v":0.0111},{"s":"r","t":45,"v":0.0225},{"s":"r","t":45.5,"v":0.0109},{"s":"r","t":46,"v":0.0222},{"s":"r","t":46.5,"v":0.0107},{"s":"r","t":47,"v":0.0218},{"s":"r","t":47.5,"v":0.0105},{"s":"r","t":48,"v":0.0215},{"s":"r","t":48.5,"v":0.0103},{"s":"r","t":49,"v":0.0211},{"s":"r","t":49.5,"v":0.0101},{"s":"r","t":50,"v":0.0208},
{"s":"lab","t":46.4,"v":0.0407,"lab":"(h)"}
]
},
"columns":2,
"spacing":{"row":1.5,"column":0},
"align":"each",
"resolve":{"scale":{"color":"independent","strokeDash":"independent"}},
"concat":[
{"width":197,"height":67.5,"data":{"name":"a"},"resolve":{"axis":{"x":"independent","y":"independent"}},
 "layer":[
  {"mark":"line","transform":[{"filter":"datum.s!='lab'"}],
   "encoding":{
    "x":{"field":"t","type":"quantitative","scale":{"domain":[0,75],"nice":false},"axis":{"values":[0,12.5,25,37.5,50,62.5,75],"labels":false,"title":null}},
    "y":{"field":"v","type":"quantitative","scale":{"domain":[0.9,1],"nice":false,"zero":false},"axis":{"values":[0.9,0.95,1],"labelExpr":"datum.value==0.95?'':toString(datum.value)","title":"P₁","titleAngle":0,"titleAlign":"left","titleBaseline":"middle","titleX":-38,"titleY":34,"titleFontSize":17}},
    "color":{"field":"s","type":"nominal","scale":{"domain":["b","g","r"],"range":["#0000ff","#00dd00","#ff0000"]},"legend":null},
    "strokeDash":{"field":"s","type":"nominal","scale":{"domain":["b","g","r"],"range":[[6,2,1.5,2],[5,3],[1,0]]},"legend":null}}},
  {"mark":{"type":"text","color":"black","fontSize":15},"transform":[{"filter":"datum.s=='lab'"}],
   "encoding":{
    "x":{"field":"t","type":"quantitative","scale":{"domain":[0,75],"nice":false},"axis":{"orient":"top","values":[0,12.5,25,37.5,50,62.5,75],"labels":false,"title":null}},
    "y":{"field":"v","type":"quantitative","scale":{"domain":[0.9,1],"nice":false,"zero":false},"axis":{"orient":"right","values":[0.9,0.95,1],"labels":false,"title":null}},
    "text":{"field":"lab"}}}
 ]},
{"width":197,"height":67.5,"data":{"name":"e"},"resolve":{"axis":{"x":"independent","y":"independent"}},
 "layer":[
  {"mark":"line","transform":[{"filter":"datum.s!='lab'"}],
   "encoding":{
    "x":{"field":"t","type":"quantitative","scale":{"domain":[0,50],"nice":false},"axis":{"values":[0,12.5,25,37.5,50],"labels":false,"title":null}},
    "y":{"field":"v","type":"quantitative","scale":{"domain":[0.95,1],"nice":false,"zero":false},"axis":{"values":[0.95,0.975,1],"labelPadding":9,"labelExpr":"datum.value==0.975?'':toString(datum.value)","title":null}},
    "color":{"field":"s","type":"nominal","scale":{"domain":["b","g","r"],"range":["#0000ff","#00dd00","#ff0000"]},"legend":{"orient":"bottom-left","title":null,"offset":2,"padding":2,"symbolType":"stroke","symbolSize":200,"symbolStrokeWidth":1.25,"labelFontSize":13,"labelFont":"Liberation Serif","labelColor":"black","labelOffset":8,"rowPadding":3,"labelExpr":"datum.value=='b'?'θc = 1':datum.value=='g'?'θc = 0.5':'θc = 0.2'"}},
    "strokeDash":{"field":"s","type":"nominal","scale":{"domain":["b","g","r"],"range":[[6,2,1.5,2],[5,3],[1,0]]},"legend":{"orient":"bottom-left","title":null,"offset":2,"padding":2,"symbolType":"stroke","symbolSize":200,"symbolStrokeWidth":1.25,"labelFontSize":13,"labelFont":"Liberation Serif","labelColor":"black","labelOffset":8,"rowPadding":3,"labelExpr":"datum.value=='b'?'θc = 1':datum.value=='g'?'θc = 0.5':'θc = 0.2'"}}}},
  {"mark":{"type":"text","color":"black","fontSize":15},"transform":[{"filter":"datum.s=='lab'"}],
   "encoding":{
    "x":{"field":"t","type":"quantitative","scale":{"domain":[0,50],"nice":false},"axis":{"orient":"top","values":[0,12.5,25,37.5,50],"labels":false,"title":null}},
    "y":{"field":"v","type":"quantitative","scale":{"domain":[0.95,1],"nice":false,"zero":false},"axis":{"orient":"right","values":[0.95,0.975,1],"labels":false,"title":null}},
    "text":{"field":"lab"}}}
 ]},
{"width":197,"height":67.5,"data":{"name":"b"},"resolve":{"axis":{"x":"independent","y":"independent"}},
 "layer":[
  {"mark":"line","transform":[{"filter":"datum.s!='lab'"}],
   "encoding":{
    "x":{"field":"t","type":"quantitative","scale":{"domain":[0,75],"nice":false},"axis":{"values":[0,12.5,25,37.5,50,62.5,75],"labels":false,"title":null}},
    "y":{"field":"v","type":"quantitative","scale":{"domain":[0,0.02],"nice":false,"zero":false},"axis":{"values":[0,0.01,0.02],"labelExpr":"datum.value==0.01?'':toString(datum.value)","title":"P₂","titleAngle":0,"titleAlign":"left","titleBaseline":"middle","titleX":-38,"titleY":32,"titleFontSize":17}},
    "color":{"field":"s","type":"nominal","scale":{"domain":["b","g","r"],"range":["#0000ff","#00dd00","#ff0000"]},"legend":null},
    "strokeDash":{"field":"s","type":"nominal","scale":{"domain":["b","g","r"],"range":[[6,2,1.5,2],[5,3],[1,0]]},"legend":null}}},
  {"mark":{"type":"line","color":"black","strokeDash":[1.2,2.8],"strokeWidth":1.4},"transform":[{"filter":"datum.s!='lab' && datum.t%1==0"}],
   "encoding":{
    "x":{"field":"t","type":"quantitative","scale":{"domain":[0,75],"nice":false},"axis":null},
    "y":{"field":"v","type":"quantitative","scale":{"domain":[0,0.02],"nice":false,"zero":false},"axis":null},
    "detail":{"field":"s"}}},
  {"mark":{"type":"text","color":"black","fontSize":15},"transform":[{"filter":"datum.s=='lab'"}],
   "encoding":{
    "x":{"field":"t","type":"quantitative","scale":{"domain":[0,75],"nice":false},"axis":{"orient":"top","values":[0,12.5,25,37.5,50,62.5,75],"labels":false,"title":null}},
    "y":{"field":"v","type":"quantitative","scale":{"domain":[0,0.02],"nice":false,"zero":false},"axis":{"orient":"right","values":[0,0.01,0.02],"labels":false,"title":null}},
    "text":{"field":"lab"}}}
 ]},
{"width":197,"height":67.5,"data":{"name":"f"},"resolve":{"axis":{"x":"independent","y":"independent"}},
 "layer":[
  {"mark":"line","transform":[{"filter":"datum.s!='lab'"}],
   "encoding":{
    "x":{"field":"t","type":"quantitative","scale":{"domain":[0,50],"nice":false},"axis":{"values":[0,12.5,25,37.5,50],"labels":false,"title":null}},
    "y":{"field":"v","type":"quantitative","scale":{"domain":[0,0.002],"nice":false,"zero":false},"axis":{"values":[0,0.001,0.002],"labelPadding":9,"labelExpr":"datum.value==0.001?'':toString(datum.value)","title":null}},
    "color":{"field":"s","type":"nominal","scale":{"domain":["b","g","r"],"range":["#0000ff","#00dd00","#ff0000"]},"legend":null},
    "strokeDash":{"field":"s","type":"nominal","scale":{"domain":["b","g","r"],"range":[[6,2,1.5,2],[5,3],[1,0]]},"legend":null}}},
  {"mark":{"type":"line","color":"black","strokeDash":[1.2,2.8],"strokeWidth":1.4},"transform":[{"filter":"datum.s!='lab' && datum.t%1==0"}],
   "encoding":{
    "x":{"field":"t","type":"quantitative","scale":{"domain":[0,50],"nice":false},"axis":null},
    "y":{"field":"v","type":"quantitative","scale":{"domain":[0,0.002],"nice":false,"zero":false},"axis":null},
    "detail":{"field":"s"}}},
  {"mark":{"type":"text","color":"black","fontSize":15},"transform":[{"filter":"datum.s=='lab'"}],
   "encoding":{
    "x":{"field":"t","type":"quantitative","scale":{"domain":[0,50],"nice":false},"axis":{"orient":"top","values":[0,12.5,25,37.5,50],"labels":false,"title":null}},
    "y":{"field":"v","type":"quantitative","scale":{"domain":[0,0.002],"nice":false,"zero":false},"axis":{"orient":"right","values":[0,0.001,0.002],"labels":false,"title":null}},
    "text":{"field":"lab"}}}
 ]},
{"width":197,"height":67.5,"data":{"name":"c"},"resolve":{"axis":{"x":"independent","y":"independent"}},
 "layer":[
  {"mark":"line","transform":[{"filter":"datum.s!='lab'"}],
   "encoding":{
    "x":{"field":"t","type":"quantitative","scale":{"domain":[0,75],"nice":false},"axis":{"values":[0,12.5,25,37.5,50,62.5,75],"labels":false,"title":null}},
    "y":{"field":"v","type":"quantitative","scale":{"domain":[0,0.1],"nice":false,"zero":false},"axis":{"values":[0,0.05,0.1],"labelExpr":"datum.value==0.05?'':toString(datum.value)","title":"P₃","titleAngle":0,"titleAlign":"left","titleBaseline":"middle","titleX":-38,"titleY":33,"titleFontSize":17}},
    "color":{"field":"s","type":"nominal","scale":{"domain":["b","g","r"],"range":["#0000ff","#00dd00","#ff0000"]},"legend":null},
    "strokeDash":{"field":"s","type":"nominal","scale":{"domain":["b","g","r"],"range":[[6,2,1.5,2],[5,3],[1,0]]},"legend":null}}},
  {"mark":{"type":"text","color":"black","fontSize":15},"transform":[{"filter":"datum.s=='lab'"}],
   "encoding":{
    "x":{"field":"t","type":"quantitative","scale":{"domain":[0,75],"nice":false},"axis":{"orient":"top","values":[0,12.5,25,37.5,50,62.5,75],"labels":false,"title":null}},
    "y":{"field":"v","type":"quantitative","scale":{"domain":[0,0.1],"nice":false,"zero":false},"axis":{"orient":"right","values":[0,0.05,0.1],"labels":false,"title":null}},
    "text":{"field":"lab"}}}
 ]},
{"width":197,"height":67.5,"data":{"name":"g"},"resolve":{"axis":{"x":"independent","y":"independent"}},
 "layer":[
  {"mark":"line","transform":[{"filter":"datum.s!='lab'"}],
   "encoding":{
    "x":{"field":"t","type":"quantitative","scale":{"domain":[0,50],"nice":false},"axis":{"values":[0,12.5,25,37.5,50],"labels":false,"title":null}},
    "y":{"field":"v","type":"quantitative","scale":{"domain":[0,0.01],"nice":false,"zero":false},"axis":{"values":[0,0.005,0.01],"labelPadding":9,"labelExpr":"datum.value==0.005?'':toString(datum.value)","title":null}},
    "color":{"field":"s","type":"nominal","scale":{"domain":["b","g","r"],"range":["#0000ff","#00dd00","#ff0000"]},"legend":null},
    "strokeDash":{"field":"s","type":"nominal","scale":{"domain":["b","g","r"],"range":[[6,2,1.5,2],[5,3],[1,0]]},"legend":null}}},
  {"mark":{"type":"text","color":"black","fontSize":15},"transform":[{"filter":"datum.s=='lab'"}],
   "encoding":{
    "x":{"field":"t","type":"quantitative","scale":{"domain":[0,50],"nice":false},"axis":{"orient":"top","values":[0,12.5,25,37.5,50],"labels":false,"title":null}},
    "y":{"field":"v","type":"quantitative","scale":{"domain":[0,0.01],"nice":false,"zero":false},"axis":{"orient":"right","values":[0,0.005,0.01],"labels":false,"title":null}},
    "text":{"field":"lab"}}}
 ]},
{"width":197,"height":67.5,"data":{"name":"d"},"resolve":{"axis":{"x":"independent","y":"independent"}},
 "layer":[
  {"mark":"line","transform":[{"filter":"datum.s!='lab'"}],
   "encoding":{
    "x":{"field":"t","type":"quantitative","scale":{"domain":[0,75],"nice":false},"axis":{"values":[0,12.5,25,37.5,50,62.5,75],"labelExpr":"datum.value%25==0?toString(datum.value):''","title":"t/T","titleFontSize":17,"titleX":77.5,"titleY":26,"titleBaseline":"alphabetic","titleAlign":"center"}},
    "y":{"field":"v","type":"quantitative","scale":{"domain":[-0.1,0.2],"nice":false,"zero":false},"axis":{"values":[-0.1,0,0.1,0.2],"labelExpr":"(datum.value==0||datum.value==0.2)?toString(datum.value):''","title":"Absorption","titleAngle":270,"titleAlign":"center","titleBaseline":"middle","titleX":-36.5,"titleY":32,"titleFontSize":13}},
    "color":{"field":"s","type":"nominal","scale":{"domain":["b","g","r"],"range":["#0000ff","#00dd00","#ff0000"]},"legend":null},
    "strokeDash":{"field":"s","type":"nominal","scale":{"domain":["b","g","r"],"range":[[6,2,1.5,2],[5,3],[1,0]]},"legend":null}}},
  {"mark":{"type":"text","color":"black","fontSize":15},"transform":[{"filter":"datum.s=='lab'"}],
   "encoding":{
    "x":{"field":"t","type":"quantitative","scale":{"domain":[0,75],"nice":false},"axis":{"orient":"top","values":[0,12.5,25,37.5,50,62.5,75],"labels":false,"title":null}},
    "y":{"field":"v","type":"quantitative","scale":{"domain":[-0.1,0.2],"nice":false,"zero":false},"axis":{"orient":"right","values":[-0.1,0,0.1,0.2],"labels":false,"title":null}},
    "text":{"field":"lab"}}}
 ]},
{"width":197,"height":67.5,"data":{"name":"h"},"resolve":{"axis":{"x":"independent","y":"independent"}},
 "layer":[
  {"mark":"line","transform":[{"filter":"datum.s!='lab'"}],
   "encoding":{
    "x":{"field":"t","type":"quantitative","scale":{"domain":[0,50],"nice":false},"axis":{"values":[0,12.5,25,37.5,50],"labelExpr":"datum.value%25==0?toString(datum.value):''","title":"t/T","titleFontSize":17,"titleX":98.5,"titleY":26,"titleBaseline":"alphabetic","titleAlign":"center"}},
    "y":{"field":"v","type":"quantitative","scale":{"domain":[-0.01,0.05],"nice":false,"zero":false},"axis":{"values":[-0.01,0,0.025,0.05],"labelPadding":9,"labelExpr":"(datum.value==0||datum.value==0.05)?toString(datum.value):''","title":null}},
    "color":{"field":"s","type":"nominal","scale":{"domain":["b","g","r"],"range":["#0000ff","#00dd00","#ff0000"]},"legend":null},
    "strokeDash":{"field":"s","type":"nominal","scale":{"domain":["b","g","r"],"range":[[6,2,1.5,2],[5,3],[1,0]]},"legend":null}}},
  {"mark":{"type":"text","color":"black","fontSize":15},"transform":[{"filter":"datum.s=='lab'"}],
   "encoding":{
    "x":{"field":"t","type":"quantitative","scale":{"domain":[0,50],"nice":false},"axis":{"orient":"top","values":[0,12.5,25,37.5,50],"labels":false,"title":null}},
    "y":{"field":"v","type":"quantitative","scale":{"domain":[-0.01,0.05],"nice":false,"zero":false},"axis":{"orient":"right","values":[-0.01,0,0.025,0.05],"labels":false,"title":null}},
    "text":{"field":"lab"}}}
 ]}
]
}
